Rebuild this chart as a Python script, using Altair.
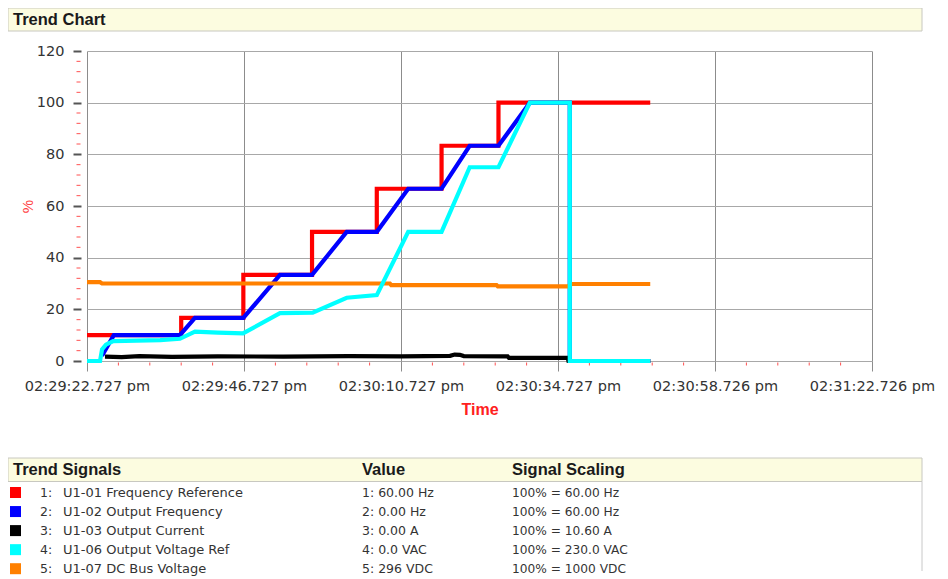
import json
import altair as alt
import pandas as pd

# ---------------- axis ticks / labels ----------------
TICK_SECONDS = [0, 24, 48, 72, 95.999, 119.999]
TICK_LABELS = ["02:29:22.727 pm", "02:29:46.727 pm", "02:30:10.727 pm",
               "02:30:34.727 pm", "02:30:58.726 pm", "02:31:22.726 pm"]
Y_TICKS = [0, 20, 40, 60, 80, 100, 120]

# ---------------- signals table ----------------
SIGNAL_NUMS = ["1:", "2:", "3:", "4:", "5:"]
SIGNAL_NAMES = ["U1-01 Frequency Reference", "U1-02 Output Frequency",
                "U1-03 Output Current", "U1-06 Output Voltage Ref",
                "U1-07 DC Bus Voltage"]
SIGNAL_VALUES = ["1: 60.00 Hz", "2: 0.00 Hz", "3: 0.00 A", "4: 0.0 VAC", "5: 296 VDC"]
SIGNAL_SCALING = ["100% = 60.00 Hz", "100% = 60.00 Hz", "100% = 10.60 A",
                  "100% = 230.0 VAC", "100% = 1000 VDC"]
SIGNAL_COLORS = ["#ff0000", "#0000ff", "#000000", "#00ffff", "#ff8000"]

# ---------------- series (seconds from start, % of scaling) ----------------
FREQ_REF_T = [0, 14.4, 23.9, 34.4, 44.3, 54.2, 62.9, 86.1]
FREQ_REF_V = [10, 16.67, 33.33, 50, 66.67, 83.33, 100, 100]

OUT_FREQ_T = [2.3, 4.1, 14.2, 16.5, 23.9, 29.5, 34.4, 39.7, 44.3, 49.1, 54.2,
              58.5, 62.9, 67.7, 73.8, 73.8, 86.1]
OUT_FREQ_V = [2.0, 10, 10, 16.67, 16.67, 33.33, 33.33, 50, 50, 66.67, 66.67,
              83.33, 83.33, 100, 100, 0, 0]

OUT_CURR_T = [2.75, 5.3, 8.0, 13.0, 20.0, 30.0, 40.0, 48.0, 55.5, 56.2, 57.0,
              57.6, 64.3, 64.5, 73.5, 73.6, 86.1]
OUT_CURR_V = [1.7, 1.5, 1.9, 1.6, 1.8, 1.7, 1.9, 1.8, 2.0, 2.5, 2.4,
              1.9, 1.8, 1.2, 1.2, 0, 0]

VOLT_REF_T = [0, 1.99, 2.3, 2.9, 4.0, 11.2, 14.2, 16.5, 20.0, 23.85, 29.5, 34.5,
              39.7, 44.3, 49.1, 54.2, 58.5, 62.9, 67.7, 73.8, 73.8, 86.1]
VOLT_REF_V = [0, 0, 4.5, 6.3, 7.7, 8.1, 8.6, 11.4, 11.0, 10.7, 18.5, 18.7,
              24.5, 25.5, 50, 50, 75, 75, 100, 100, 0, 0]

DC_BUS_T = [0, 2.0, 2.3, 46.3, 46.5, 62.6, 62.8, 73.5, 74.1, 86.1]
DC_BUS_V = [30.5, 30.5, 30.0, 30.0, 29.4, 29.4, 28.9, 28.9, 29.8, 29.8]

SERIES = [
    (SIGNAL_NAMES[0], FREQ_REF_T, FREQ_REF_V),
    (SIGNAL_NAMES[1], OUT_FREQ_T, OUT_FREQ_V),
    (SIGNAL_NAMES[2], OUT_CURR_T, OUT_CURR_V),
    (SIGNAL_NAMES[4], DC_BUS_T, DC_BUS_V),
    (SIGNAL_NAMES[3], VOLT_REF_T, VOLT_REF_V),
]

rows = []
for name, ts, vs in SERIES:
    for i, (t, v) in enumerate(zip(ts, vs)):
        rows.append({"signal": name, "t": t, "v": v, "i": i})
df = pd.DataFrame(rows)

# minor tick positions (axis decoration)
X_MINOR = [round(k * 4.8, 3) for k in range(1, 25) if k % 5]
Y_MINOR = [k * 4 for k in range(1, 30) if k % 5]

color_scale = alt.Scale(domain=SIGNAL_NAMES, range=SIGNAL_COLORS)

x_axis = alt.Axis(
    values=TICK_SECONDS,
    labelExpr=json.dumps(TICK_LABELS) + "[round(datum.value/24)]",
    title="Time", grid=True, gridColor="#8c8c8c", gridWidth=1,
    domain=False, ticks=True, tickSize=10, tickColor="#8c8c8c", tickWidth=1,
    labelFont="DejaVu Sans", labelFontSize=14.5, labelColor="#333333",
    labelPadding=8, labelFlush=False, labelOverlap=False,
    titleColor="#ff2020", titleFont="Liberation Sans", titleFontSize=16,
    titleFontWeight="bold", titleY=48, titleBaseline="middle",
)
y_axis = alt.Axis(
    values=Y_TICKS, title="%", grid=True, gridColor="#a8a8a8", gridWidth=1,
    domain=False, offset=6, tickSize=8, tickColor="#555555", tickWidth=2,
    labelFont="DejaVu Sans", labelFontSize=14.5, labelColor="#333333",
    labelPadding=9, titleColor="#ff4040", titleFont="Liberation Sans",
    titleFontSize=15, titleFontWeight="normal", titleX=-54, titleY=155,
    titleAngle=270, titleAlign="center", titleBaseline="middle",
)
x_enc = alt.X("t:Q", scale=alt.Scale(domain=[0, 119.999], nice=False, zero=False), axis=x_axis)
y_enc = alt.Y("v:Q", scale=alt.Scale(domain=[0, 120], nice=False, zero=False), axis=y_axis)

one = pd.DataFrame({"a": [0]})

def bar(y0, y1):
    return alt.Chart(one).mark_rect(fill="#fcfce0", stroke="#c8c8c0", strokeWidth=1).encode(
        x=alt.value(-79), x2=alt.value(835), y=alt.value(y0), y2=alt.value(y1))

def label(txt, x, y, size, weight="bold", font="Liberation Sans", color="#1a1a1a"):
    return alt.Chart(one).mark_text(text=txt, align="left", baseline="middle", font=font,
                                    fontSize=size, fontWeight=weight, color=color).encode(
        x=alt.value(x), y=alt.value(y))

layers = [
    bar(-43, -20),
    bar(407, 430.5),
    alt.Chart(one).mark_rule(color="#c8c8c8", strokeWidth=1).encode(
        x=alt.value(835), y=alt.value(430.5), y2=alt.value(520)),
    label("Trend Chart", -74, -31.5, 16.5),
    label("Trend Signals", -74, 419, 16.5),
    label("Value", 275, 419, 16.5),
    label("Signal Scaling", 425, 419, 16.5),
    alt.Chart(pd.DataFrame({"t": X_MINOR})).mark_rule(color="#ff5050", strokeWidth=1).encode(
        x=x_enc, y=alt.value(311.5), y2=alt.value(314.5)),
    alt.Chart(pd.DataFrame({"v": Y_MINOR})).mark_rule(color="#ff5050", strokeWidth=1).encode(
        y=y_enc, x=alt.value(-10.5), x2=alt.value(-6.5)),
]

for name, _, _ in SERIES:
    interp = "step-after" if name == SIGNAL_NAMES[0] else "linear"
    layers.append(
        alt.Chart(df).transform_filter(alt.datum.signal == name).mark_line(
            strokeWidth=4.2, interpolate=interp, strokeCap="butt", strokeJoin="miter").encode(
            x=x_enc, y=y_enc, order=alt.Order("i:Q"),
            color=alt.Color("signal:N", scale=color_scale, legend=None))
    )

table = pd.DataFrame({"idx": list(range(5)), "num": SIGNAL_NUMS, "signal": SIGNAL_NAMES,
                      "value": SIGNAL_VALUES, "scaling": SIGNAL_SCALING})
tbase = alt.Chart(table).transform_calculate(row_y="441.5 + 19.05*datum.idx")
row_y = alt.Y("row_y:Q", scale=None, axis=None)
layers.append(tbase.mark_square(size=121, opacity=1).encode(
    x=alt.value(-71.5), y=row_y, color=alt.Color("signal:N", scale=color_scale, legend=None)))
for field, xpos, fs in [("num", -47, 12.5), ("signal", -24, 13), ("value", 275, 12.5),
                        ("scaling", 425, 12.2)]:
    layers.append(tbase.mark_text(align="left", baseline="middle", font="DejaVu Sans",
                                  fontSize=fs, color="#333333").encode(
        x=alt.value(xpos), y=row_y, text=f"{field}:N"))

chart = alt.layer(*layers).properties(
    width=785, height=310,
    padding={"left": 79, "top": 43, "right": 68, "bottom": 216},
    autosize=alt.AutoSizeParams(type="none"),
    background="white",
).configure_view(stroke=None)

chart.save("out.html", embed_options={"renderer": "svg", "actions": False})
